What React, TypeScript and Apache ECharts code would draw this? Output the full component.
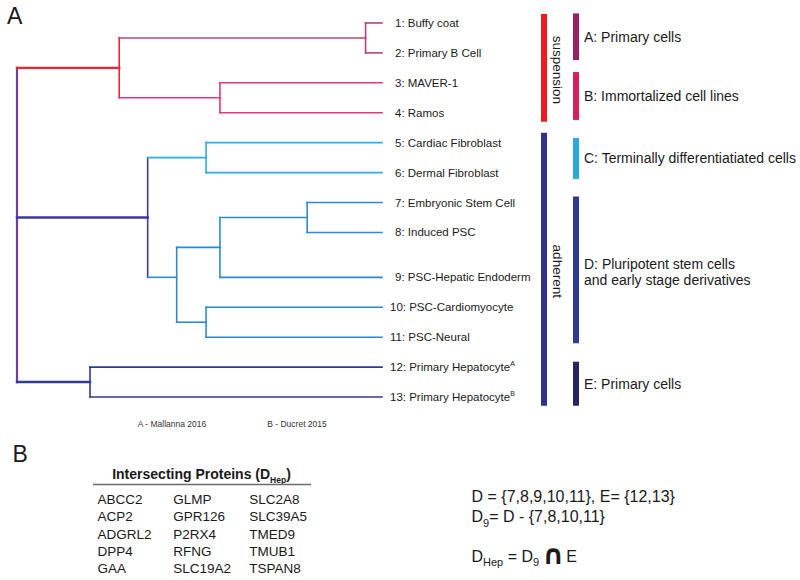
import React, { useEffect, useRef } from 'react';
import * as echarts from 'echarts';

// ---------- Data ----------
const leafLabels = [
  '1: Buffy coat', '2: Primary B Cell', '3: MAVER-1', '4: Ramos',
  '5: Cardiac Fibroblast', '6: Dermal Fibroblast', '7: Embryonic Stem Cell',
  '8: Induced PSC', '9: PSC-Hepatic Endoderm', '10: PSC-Cardiomyocyte',
  '11: PSC-Neural', '12: Primary Hepatocyte', '13: Primary Hepatocyte',
];
const leafSup = ['', '', '', '', '', '', '', '', '', '', '', 'A', 'B'];
const leafRows = [1, 2, 3, 4, 5, 6, 7, 8, 9.5, 10.5, 11.5, 12.5, 13.5];

// internal nodes: ids 13.. ; leaves are 0..12
const nodeChildren = [
  [0, 1], [2, 3], [13, 14], [4, 5], [6, 7], [17, 8], [9, 10],
  [18, 19], [16, 20], [11, 12], [15, 21, 22],
];
const nodeHeights = [0.045, 0.444, 0.72, 0.482, 0.205, 0.444, 0.482, 0.5625, 0.642, 0.8, 1.0];
const nodeRowOverride: (number | null)[] = [null, null, null, null, null, null, null, 9.5, null, null, null];
const nodeColors = [
  '#b2447f', '#e8357a', '#ee2434', '#2caee6', '#2f89d0', '#2f89d0', '#2f89d0',
  '#2f89d0', '#3d36a0', '#2f3a93', '#6d3fa2',
];

const cultureNames = ['suspension', 'adherent'];
const cultureStart = [0.7, 4.67];
const cultureEnd = [4.3, 13.79];
const cultureColors = ['#ed1c24', '#2e3192'];

const groupNames = [
  'A: Primary cells', 'B: Immortalized cell lines',
  'C: Terminally differentiatiated cells',
  'D: Pluripotent stem cells\nand early stage derivatives', 'E: Primary cells',
];
const groupStart = [0.68, 2.64, 4.84, 6.8, 12.32];
const groupEnd = [2.24, 4.24, 6.21, 11.7, 13.79];
const groupColors = ['#9a2163', '#d81e5d', '#2aa9e0', '#2e3b97', '#262463'];

const footnotes = ['A - Mallanna 2016', 'B - Ducret 2015'];
const proteins = [
  'ABCC2', 'ACP2', 'ADGRL2', 'DPP4', 'GAA',
  'GLMP', 'GPR126', 'P2RX4', 'RFNG', 'SLC19A2',
  'SLC2A8', 'SLC39A5', 'TMED9', 'TMUB1', 'TSPAN8',
];

const FONT = '"Liberation Sans", Arial, Helvetica, sans-serif';
const SYM_FONT = '"DejaVu Sans", sans-serif';

// ---------- Build dendrogram segments ----------
const N = leafRows.length;
function rowOf(id: number): number {
  if (id < N) return leafRows[id];
  const k = id - N;
  if (nodeRowOverride[k] != null) return nodeRowOverride[k] as number;
  const ys = nodeChildren[k].map(rowOf);
  return (Math.min(...ys) + Math.max(...ys)) / 2;
}
function heightOf(id: number): number {
  return id < N ? 0 : nodeHeights[id - N];
}
const rootId = N + nodeChildren.length - 1;
const segColor: string[] = [];
const segWidth: number[] = [];
const segData: number[][] = [];
nodeChildren.forEach((children, k) => {
  const id = N + k;
  const h = nodeHeights[k];
  const ys = children.map(rowOf);
  const isRoot = id === rootId;
  segData.push([h, Math.min(...ys), h, Math.max(...ys), segData.length]);
  segColor.push(nodeColors[k]);
  segWidth.push(isRoot ? 2.2 : 1.6);
  children.forEach((c) => {
    const y = rowOf(c);
    segData.push([heightOf(c), y, h, y, segData.length]);
    segColor.push(c < N ? nodeColors[k] : nodeColors[c - N]);
    segWidth.push(isRoot ? 2.4 : 1.6);
  });
});

type Part = { text: string; size: number; bold?: boolean; dy?: number; family?: string };

let measureCtx: CanvasRenderingContext2D | null = null;
function measure(p: Part): number {
  if (!measureCtx) measureCtx = document.createElement('canvas').getContext('2d');
  if (!measureCtx) return p.text.length * p.size * 0.55;
  measureCtx.font = `${p.bold ? 'bold ' : ''}${p.size}px ${p.family || FONT}`;
  return measureCtx.measureText(p.text).width;
}

function composite(x: number, y: number, parts: Part[], align: 'left' | 'center' = 'left') {
  const widths = parts.map(measure);
  const total = widths.reduce((a, b) => a + b, 0);
  let cx = align === 'center' ? x - total / 2 : x;
  const children = parts.map((p, i) => {
    const el = {
      type: 'text', x: cx, y: y + (p.dy || 0),
      style: {
        text: p.text, fontSize: p.size, fontWeight: p.bold ? 'bold' : 'normal',
        fontFamily: p.family || FONT, fill: '#1a1a1a',
        align: 'left', verticalAlign: 'middle', textAlign: 'left', textVerticalAlign: 'middle',
      },
    };
    cx += widths[i];
    return el;
  });
  return { type: 'group', children };
}

export default function App() {
  const ref = useRef<HTMLDivElement>(null);
  useEffect(() => {
    if (!ref.current) return;
    const chart = echarts.init(ref.current, null, { renderer: 'svg' });

    const graphic: any[] = [];
    const txt = (x: number, y: number, text: string, size: number, extra: any = {}) => ({
      type: 'text', x, y,
      style: {
        text, fontSize: size, fontFamily: FONT, fill: '#1a1a1a',
        align: 'left', verticalAlign: 'middle', textAlign: 'left', textVerticalAlign: 'middle',
        ...extra,
      },
    });
    graphic.push(txt(7, 16, 'A', 23));
    graphic.push(txt(12.5, 454, 'B', 23));
    graphic.push(txt(172, 424, footnotes[0], 8.5, { align: 'center', textAlign: 'center', fill: '#333' }));
    graphic.push(txt(297, 424, footnotes[1], 8.5, { align: 'center', textAlign: 'center', fill: '#333' }));
    graphic.push(composite(201.5, 474, [
      { text: 'Intersecting Proteins (D', size: 14, bold: true },
      { text: 'Hep', size: 8.5, bold: true, dy: 5.5 },
      { text: ')', size: 14, bold: true },
    ], 'center'));
    graphic.push({ type: 'line', shape: { x1: 93, y1: 484.5, x2: 311, y2: 484.5 }, style: { stroke: '#6b6b6b', lineWidth: 1.6 } });
    const colX = [97.5, 173.3, 249.3];
    const rowY = [499.3, 516.7, 534, 551.2, 568.4];
    proteins.forEach((p, i) => {
      graphic.push(txt(colX[Math.floor(i / 5)], rowY[i % 5], p, 13.5));
    });
    graphic.push(txt(471.5, 496, 'D = {7,8,9,10,11}, E= {12,13}', 16));
    graphic.push(composite(471.5, 516.5, [
      { text: 'D', size: 16 },
      { text: '9', size: 11, dy: 6 },
      { text: '= D - {7,8,10,11}', size: 16 },
    ]));
    graphic.push(composite(471.5, 556, [
      { text: 'D', size: 16 },
      { text: 'Hep', size: 11, dy: 6 },
      { text: ' = D', size: 16 },
      { text: '9', size: 11, dy: 6 },
      { text: ' ', size: 11 },
      { text: '\u2229', size: 27, bold: true, family: SYM_FONT, dy: -1.5 },
      { text: ' ', size: 8 },
      { text: 'E', size: 16 },
    ]));

    const option: any = {
      animation: false,
      backgroundColor: '#ffffff',
      grid: { left: 17, top: 8, width: 365, height: 404 },
      xAxis: { type: 'value', inverse: true, min: 0, max: 1, show: false },
      yAxis: { type: 'value', inverse: true, min: 0.5, max: 14, show: false },
      graphic,
      series: [
        {
          type: 'custom', clip: false, silent: true,
          encode: { x: [0, 2], y: [1, 3] },
          data: segData,
          renderItem: (params: any, api: any) => {
            const i = api.value(4);
            const a = api.coord([api.value(0), api.value(1)]);
            const b = api.coord([api.value(2), api.value(3)]);
            return {
              type: 'line',
              shape: { x1: a[0], y1: a[1], x2: b[0], y2: b[1] },
              style: { stroke: segColor[i], lineWidth: segWidth[i], lineCap: 'square' },
            };
          },
        },
        {
          type: 'custom', clip: false, silent: true,
          encode: { x: 0, y: 1 },
          data: leafRows.map((r, i) => [0, r, i]),
          renderItem: (params: any, api: any) => {
            const i = api.value(2);
            const p = api.coord([0, api.value(1)]);
            const digits = leafLabels[i].split(':')[0].length;
            const sup = leafSup[i];
            return {
              type: 'text',
              x: p[0] + 13 - (digits - 1) * 5,
              y: p[1],
              style: {
                text: sup ? `{n|${leafLabels[i]}}{u|${sup}}` : `{n|${leafLabels[i]}}`,
                align: 'left', verticalAlign: 'middle',
                rich: {
                  n: { fontSize: 11.5, fontFamily: FONT, fill: '#1a1a1a', lineHeight: 14 },
                  u: { fontSize: 7, fontFamily: FONT, fill: '#1a1a1a', lineHeight: 6, verticalAlign: 'top' },
                },
              },
            };
          },
        },
        {
          type: 'custom', clip: false, silent: true,
          encode: { x: 2, y: [0, 1] },
          data: cultureStart.map((s, i) => [s, cultureEnd[i], 0, i]),
          renderItem: (params: any, api: any) => {
            const i = api.value(3);
            const a = api.coord([0, api.value(0)]);
            const b = api.coord([0, api.value(1)]);
            return {
              type: 'group',
              children: [
                {
                  type: 'rect',
                  shape: { x: a[0] + 159, y: a[1], width: 6, height: b[1] - a[1] },
                  style: { fill: cultureColors[i] },
                },
                {
                  type: 'text',
                  x: a[0] + 175, y: (a[1] + b[1]) / 2 + 2,
                  rotation: -Math.PI / 2,
                  style: {
                    text: cultureNames[i], fontSize: 13.5, fontFamily: FONT, fill: '#1a1a1a',
                    align: 'center', verticalAlign: 'middle',
                  },
                },
              ],
            };
          },
        },
        {
          type: 'custom', clip: false, silent: true,
          encode: { x: 2, y: [0, 1] },
          data: groupStart.map((s, i) => [s, groupEnd[i], 0, i]),
          renderItem: (params: any, api: any) => {
            const i = api.value(3);
            const a = api.coord([0, api.value(0)]);
            const b = api.coord([0, api.value(1)]);
            return {
              type: 'group',
              children: [
                {
                  type: 'rect',
                  shape: { x: a[0] + 191, y: a[1], width: 6, height: b[1] - a[1] },
                  style: { fill: groupColors[i] },
                },
                {
                  type: 'text',
                  x: a[0] + 202, y: (a[1] + b[1]) / 2 + (i === 3 ? 2 : 0),
                  style: {
                    text: groupNames[i], fontSize: 14, fontFamily: FONT, fill: '#1a1a1a',
                    lineHeight: 16.5, align: 'left', verticalAlign: 'middle',
                  },
                },
              ],
            };
          },
        },
      ],
    };
    chart.setOption(option);
    return () => chart.dispose();
  }, []);
  return (
    <div
      ref={ref}
      style={{ position: 'absolute', left: 0, top: 0, width: 800, height: 580, background: '#fff' }}
    />
  );
}
